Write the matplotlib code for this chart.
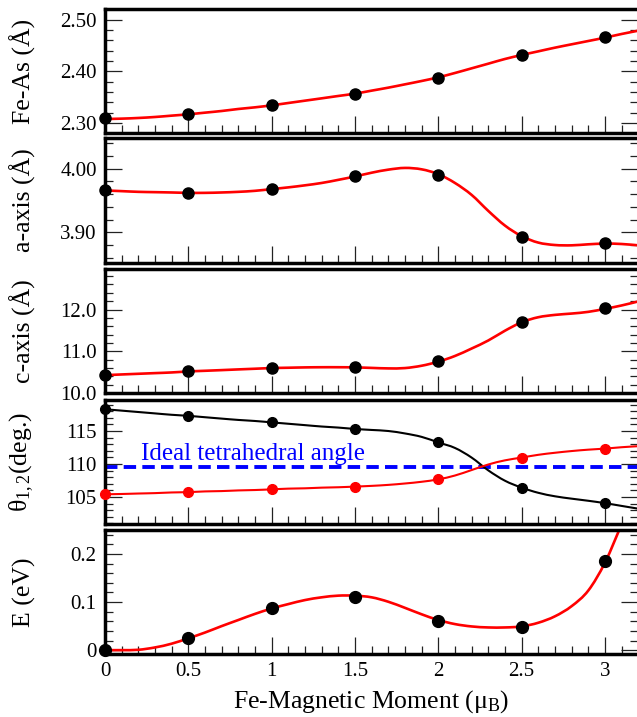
import matplotlib
matplotlib.use("Agg")
import numpy as np
import matplotlib.pyplot as plt
from matplotlib.path import Path
from matplotlib.patches import PathPatch
from matplotlib.ticker import MultipleLocator, FormatStrFormatter

plt.rcParams['font.family'] = ['Liberation Serif', 'DejaVu Serif']
plt.rcParams['mathtext.fontset'] = 'custom'
plt.rcParams['mathtext.rm'] = 'Liberation Serif'
plt.rcParams['mathtext.it'] = 'Liberation Serif:italic'

# computed points
moment = [0, 0.5, 1, 1.5, 2, 2.5, 3]
fe_as = [2.309, 2.317, 2.334, 2.357, 2.388, 2.432, 2.466]
a_axis = [3.966, 3.962, 3.968, 3.988, 3.990, 3.893, 3.883]
c_axis = [10.42, 10.52, 10.60, 10.62, 10.77, 11.71, 12.03]
theta1 = [118.30, 117.30, 116.31, 115.31, 113.27, 106.41, 104.01]
theta2 = [105.45, 105.73, 106.15, 106.57, 107.67, 110.97, 112.33]
energy = [0.0, 0.025, 0.087, 0.111, 0.061, 0.049, 0.185]

# fitted curves
fit_x = [0.0, 0.1, 0.2, 0.3, 0.4, 0.5, 0.6, 0.7, 0.8, 0.9, 1.0,
         1.1, 1.2, 1.3, 1.4, 1.5, 1.6, 1.7, 1.8, 1.9, 2.0,
         2.1, 2.2, 2.3, 2.4, 2.5, 2.6, 2.7, 2.8, 2.9, 3.0, 3.1, 3.2]
fe_as_fit = [2.3077, 2.3084, 2.3097, 2.3116, 2.3142, 2.3168, 2.3200, 2.3232,
             2.3271, 2.3303, 2.3342, 2.3387, 2.3432, 2.3477, 2.3523, 2.3568,
             2.3626, 2.3684, 2.3748, 2.3813, 2.3884, 2.3968, 2.4058, 2.4148,
             2.4239, 2.4316, 2.4387, 2.4458, 2.4523, 2.4587, 2.4652, 2.4723, 2.4787]
a_axis_fit = [3.9658, 3.9647, 3.9636, 3.9631, 3.9626, 3.9620, 3.9620, 3.9626,
              3.9636, 3.9652, 3.9679, 3.9706, 3.9738, 3.9775, 3.9824, 3.9877,
              3.9936, 3.9984, 4.0011, 3.9989, 3.9914, 3.9775, 3.9588, 3.9337,
              3.9107, 3.8941, 3.8840, 3.8802, 3.8797, 3.8813, 3.8824, 3.8818, 3.8797]
c_axis_fit = [10.427, 10.444, 10.460, 10.476, 10.492, 10.516, 10.532, 10.548,
              10.565, 10.581, 10.597, 10.605, 10.613, 10.617, 10.617, 10.613,
              10.601, 10.589, 10.597, 10.653, 10.750, 10.887, 11.065, 11.258,
              11.492, 11.694, 11.815, 11.871, 11.903, 11.944, 12.016, 12.097, 12.194]
theta1_fit = [118.30, 118.09, 117.88, 117.67, 117.46, 117.30, 117.09, 116.88,
              116.68, 116.52, 116.31, 116.10, 115.89, 115.68, 115.52, 115.31,
              115.16, 115.00, 114.63, 114.11, 113.27, 112.43, 110.97, 109.03,
              107.46, 106.41, 105.63, 105.10, 104.74, 104.42, 104.06, 103.64, 103.22]
theta2_fit = [105.40, 105.45, 105.52, 105.58, 105.68, 105.73, 105.84, 105.89,
              105.99, 106.05, 106.15, 106.26, 106.31, 106.41, 106.47, 106.57,
              106.68, 106.83, 107.04, 107.30, 107.67, 108.25, 109.08, 109.92,
              110.55, 110.97, 111.39, 111.70, 111.96, 112.17, 112.33, 112.54, 112.70]
energy_fit_x = [0.0, 0.1, 0.2, 0.3, 0.4, 0.5, 0.6, 0.7, 0.8, 0.9, 1.0,
                1.1, 1.2, 1.3, 1.4, 1.5, 1.6, 1.7, 1.8, 1.9, 2.0,
                2.1, 2.2, 2.3, 2.4, 2.5, 2.6, 2.7, 2.8, 2.9, 3.0, 3.1]
energy_fit = [0.0, 0.0, 0.0007, 0.0056, 0.0134, 0.0246, 0.0366, 0.0500,
              0.0627, 0.0754, 0.0866, 0.0958, 0.1042, 0.1099, 0.1134, 0.1134,
              0.1099, 0.1007, 0.0880, 0.0746, 0.0627, 0.0542, 0.0493, 0.0472,
              0.0472, 0.0493, 0.0570, 0.0704, 0.0915, 0.124, 0.182, 0.262]

ideal_angle = 109.47

fig = plt.figure(figsize=(6.37, 7.17), dpi=100)

left = 0.1648
width = 0.8372
bottoms = [0.8145, 0.6332, 0.4519, 0.2692, 0.0879]
heights = [0.1729, 0.1743, 0.1729, 0.1729, 0.1729]
axes = [fig.add_axes([left, b, width, h]) for b, h in zip(bottoms, heights)]

red = '#ff0000'


def smooth_curve(ax, xs, ys, color, lw):
    # draw the read-off curve as a smooth bezier path through its points
    pts = np.column_stack([xs, ys])
    n = len(pts)
    verts = [pts[0]]
    codes = [Path.MOVETO]
    for i in range(n - 1):
        p0 = pts[i - 1] if i > 0 else pts[i]
        p1 = pts[i]
        p2 = pts[i + 1]
        p3 = pts[i + 2] if i + 2 < n else pts[i + 1]
        verts += [p1 + (p2 - p0) / 6, p2 - (p3 - p1) / 6, p2]
        codes += [Path.CURVE4] * 3
    ax.add_patch(PathPatch(Path(verts, codes), fill=False, edgecolor=color,
                           lw=lw, zorder=2, capstyle='round'))


def style_axis(ax, ylim, major, minor, fmt, label):
    ax.set_xlim(0, 3.2)
    ax.set_ylim(*ylim)
    ax.xaxis.set_major_locator(MultipleLocator(0.5))
    ax.xaxis.set_minor_locator(MultipleLocator(0.1))
    ax.yaxis.set_major_locator(MultipleLocator(major))
    ax.yaxis.set_minor_locator(MultipleLocator(minor))
    ax.yaxis.set_major_formatter(FormatStrFormatter(fmt))
    ax.tick_params(which='both', direction='in', top=False, right=True,
                   labelsize=15, width=0.9, color='#222222', pad=6)
    ax.tick_params(which='major', length=12)
    ax.tick_params(which='minor', length=6)
    for s in ax.spines.values():
        s.set_linewidth(2.5)
    ax.set_ylabel(label, fontsize=18.5)
    ax.yaxis.set_label_coords(-0.13, 0.5)


# Fe-As
ax = axes[0]
smooth_curve(ax, fit_x, fe_as_fit, red, 1.9)
ax.plot(moment, fe_as, 'o', color='black', ms=8, zorder=3, clip_on=False)
style_axis(ax, (2.2806, 2.5206), 0.1, 0.02, '%.2f', 'Fe-As (Å)')

# a-axis
ax = axes[1]
smooth_curve(ax, fit_x, a_axis_fit, red, 1.9)
ax.plot(moment, a_axis, 'o', color='black', ms=8, zorder=3, clip_on=False)
style_axis(ax, (3.852, 4.048), 0.1, 0.02, '%.2f', 'a-axis (Å)')

# c-axis
ax = axes[2]
smooth_curve(ax, fit_x, c_axis_fit, red, 1.9)
ax.plot(moment, c_axis, 'o', color='black', ms=8, zorder=3, clip_on=False)
style_axis(ax, (10.0, 12.97), 1.0, 0.2, '%.1f', 'c-axis (Å)')

# angles
ax = axes[3]
ax.axhline(ideal_angle, color='#0000ff', lw=2.8, ls=(0, (3.2, 1.6)), zorder=1)
smooth_curve(ax, fit_x, theta1_fit, 'black', 1.5)
smooth_curve(ax, fit_x, theta2_fit, red, 1.5)
ax.plot(moment, theta1, 'o', color='black', ms=7, zorder=3, clip_on=False)
ax.plot(moment, theta2, 'o', color=red, ms=7, zorder=3, clip_on=False)
ax.text(0.216, 110.6, 'Ideal tetrahedral angle', color='#0000ff', fontsize=18)
style_axis(ax, (100.9, 119.7), 5, 1, '%d', 'θ$_{1,2}$(deg.)')

# energy
ax = axes[4]
smooth_curve(ax, energy_fit_x, energy_fit, red, 1.9)
ax.plot(moment, energy, 'o', color='black', ms=8.5, zorder=3, clip_on=False)
style_axis(ax, (-0.008, 0.25), 0.1, 0.02, '%g', 'E (eV)')
ax.xaxis.set_major_formatter(FormatStrFormatter('%g'))
ax.set_xlabel('Fe-Magnetic Moment (μ$_\\mathrm{B}$)', fontsize=18.5, labelpad=5)

for ax in axes[:-1]:
    ax.tick_params(labelbottom=False)

fig.savefig('out.png', dpi=100)
